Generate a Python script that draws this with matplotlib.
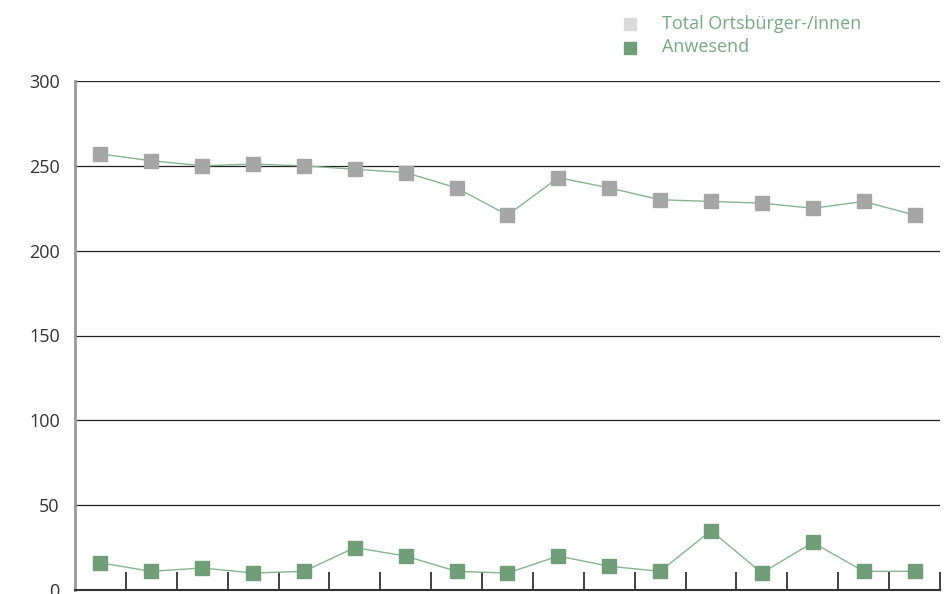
import numpy as np
import matplotlib.pyplot as plt

plt.rcParams['font.family'] = ['Open Sans', 'DejaVu Sans']

# Data (17 assemblies, no x labels)
total = [257, 253, 250, 251, 250, 248, 246, 237, 221, 243, 237, 230, 229, 228, 225, 229, 221]
anwesend = [16, 11, 13, 10, 11, 25, 20, 11, 10, 20, 14, 11, 35, 10, 28, 11, 11]
labels = ["Total Ortsbürger-/innen", "Anwesend"]
y_ticks = [0, 50, 100, 150, 200, 250, 300]

grey = "#a6a6a6"
green = "#6f9e78"
line_green = "#86b48f"
text_green = "#78a982"

fig = plt.figure(figsize=(9.44, 5.94), dpi=100)
ax = fig.add_axes([75 / 944, 4 / 594, 865 / 944, 509 / 594])

x = np.arange(len(total))
ax.plot(x, total, color=line_green, lw=1, zorder=2)
ax.plot(x, total, ls="none", marker="s", ms=10, color=grey, mec=grey, zorder=3)
ax.plot(x, anwesend, color=line_green, lw=1, zorder=2)
ax.plot(x, anwesend, ls="none", marker="s", ms=10, color=green, mec=green, zorder=3)

ax.set_xlim(-0.5, len(total) - 0.5)
ax.set_ylim(0, 300)
ax.set_yticks(y_ticks)
for v in y_ticks[1:]:
    ax.axhline(v, color="#222222", lw=0.9, zorder=1)

ax.set_xticks(np.arange(0.5, len(total), 1.0))
ax.set_xticklabels([])
ax.tick_params(axis="x", direction="in", length=13, width=1.2, color="#222222")
ax.tick_params(axis="y", length=0, pad=11, labelsize=13, labelcolor="#333333")

for s in ["top", "right"]:
    ax.spines[s].set_visible(False)
ax.spines["left"].set_color("#999999")
ax.spines["left"].set_linewidth(2)
ax.spines["bottom"].set_color("#333333")
ax.spines["bottom"].set_linewidth(1.5)

# legend drawn as text + markers in figure coords
for i, (lab, col) in enumerate(zip(labels, ["#d9d9d9", green])):
    yy = 1 - (24 + 23.5 * i) / 594
    fig.lines.append(plt.Line2D([630 / 944], [yy], transform=fig.transFigure,
                                marker="s", ms=8.5, color=col, mec=col, ls="none"))
    fig.text(662 / 944, yy, lab, color=text_green, fontsize=13, va="center", ha="left")

fig.savefig("out.png", dpi=100)
